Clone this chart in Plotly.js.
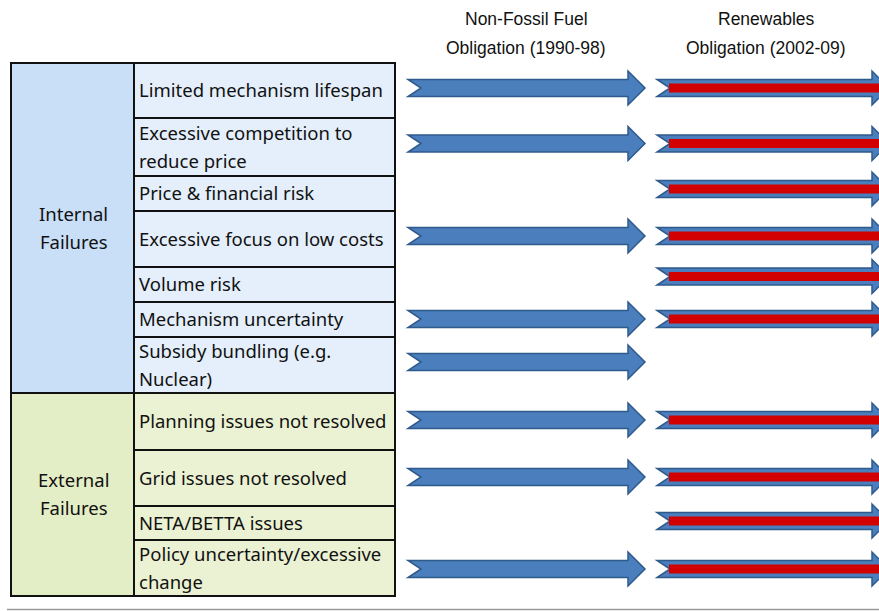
<!DOCTYPE html>
<html>
<head>
<meta charset="utf-8">
<script src="https://cdn.plot.ly/plotly-3.0.1.min.js"></script>
<style>html,body{margin:0;padding:0;background:#fff;}#chart{width:879px;height:611px;}</style>
</head>
<body>
<div id="chart"></div>
<script>
// ---------- DATA ----------
const failureGroups = ['Internal<br>Failures', 'External<br>Failures'];
const factors = [
  'Limited mechanism lifespan',
  'Excessive competition to<br>reduce price',
  'Price & financial risk',
  'Excessive focus on low costs',
  'Volume risk',
  'Mechanism uncertainty',
  'Subsidy bundling (e.g.<br>Nuclear)',
  'Planning issues not resolved',
  'Grid issues not resolved',
  'NETA/BETTA issues',
  'Policy uncertainty/excessive<br>change'
];
const factorGroup = [0, 0, 0, 0, 0, 0, 0, 1, 1, 1, 1];
const schemes = ['Non-Fossil Fuel<br>Obligation (1990-98)', 'Renewables<br>Obligation (2002-09)'];
const nffoFailure = [1, 1, 0, 1, 0, 1, 1, 1, 1, 0, 1];
const roFailure   = [1, 1, 1, 1, 1, 1, 0, 1, 1, 1, 1];

// ---------- LAYOUT CONSTANTS ----------
const ROW_H = [55, 58, 35, 56, 35, 35, 56, 57, 56, 34, 56];
const ARROW_DY = [-2.5, -3.5, -4.5, -3, -8, -0.5, -3, -1.5, -1, -2, 1];
const TABLE_TOP = 63, X_LEFT = 11, X_MID = 134, X_RIGHT = 395;
const SCHEME_X = [[408, 645], [657, 889]];
const HEADER_CX = [526, 766];
const GROUP_FILL = ['#c8dff7', '#e4eec6'];
const CELL_FILL = ['#e4effb', '#ebf2d3'];
const BLUE = '#4a7ebd', BLUE_EDGE = '#2f5a8c', RED = '#d20000';
const TXT_FONT = {family: 'Noto Sans', size: 18.5, color: '#111'};
const HDR_FONT = {family: 'Liberation Sans', size: 17.5, color: '#111'};

const shapes = [];
const annotations = [];

// row boundaries
const rowTop = [];
let yy = TABLE_TOP;
ROW_H.forEach(h => { rowTop.push(yy); yy += h; });
const rowBot = rowTop.map((t, i) => t + ROW_H[i]);
const rowMid = rowTop.map((t, i) => t + ROW_H[i] / 2);

// group cells
failureGroups.forEach((g, gi) => {
  const idx = factorGroup.map((v, i) => v === gi ? i : -1).filter(i => i >= 0);
  const y0 = rowTop[idx[0]], y1 = rowBot[idx[idx.length - 1]];
  shapes.push({type: 'rect', xref: 'x', yref: 'y', x0: X_LEFT, x1: X_MID, y0: y0, y1: y1,
    fillcolor: GROUP_FILL[gi], line: {color: '#111', width: 2}, layer: 'below'});
  const lines = g.split('<br>');
  const mid = (y0 + y1) / 2;
  lines.forEach((ln, li) => {
    annotations.push({xref: 'x', yref: 'y', x: (X_LEFT + X_MID) / 2 + 1, y: mid - 1 + (li - (lines.length - 1) / 2) * 28,
      text: ln, showarrow: false, xanchor: 'center', yanchor: 'middle', font: TXT_FONT});
  });
});

// factor cells
factors.forEach((f, i) => {
  const gi = factorGroup[i];
  shapes.push({type: 'rect', xref: 'x', yref: 'y', x0: X_MID, x1: X_RIGHT, y0: rowTop[i], y1: rowBot[i],
    fillcolor: CELL_FILL[gi], line: {color: '#111', width: 2}, layer: 'below'});
  const lines = f.split('<br>');
  lines.forEach((ln, li) => {
    annotations.push({xref: 'x', yref: 'y', x: X_MID + 3, y: rowMid[i] - 1 + (li - (lines.length - 1) / 2) * 28,
      text: ln, showarrow: false, xanchor: 'left', yanchor: 'middle', font: TXT_FONT});
  });
});

// scheme headers
schemes.forEach((s, si) => {
  s.split('<br>').forEach((ln, li) => {
    annotations.push({xref: 'x', yref: 'y', x: HEADER_CX[si], y: 19 + li * 29, text: ln, showarrow: false,
      xanchor: 'center', yanchor: 'middle', font: HDR_FONT});
  });
});

// arrows
function arrowPath(x0, x1, yc) {
  const bh = 8.5, hh = 17, hl = 17, notch = 13;
  const hx = x1 - hl;
  return `M${x0},${yc - bh} L${hx},${yc - bh} L${hx},${yc - hh} L${x1},${yc} L${hx},${yc + hh} L${hx},${yc + bh} L${x0},${yc + bh} L${x0 + notch},${yc} Z`;
}
[nffoFailure, roFailure].forEach((flags, si) => {
  flags.forEach((v, i) => {
    if (!v) return;
    const [x0, x1] = SCHEME_X[si];
    const yc = rowMid[i] + ARROW_DY[i];
    shapes.push({type: 'path', xref: 'x', yref: 'y', path: arrowPath(x0, x1, yc),
      fillcolor: BLUE, line: {color: BLUE_EDGE, width: 1.5}});
    if (si === 1) {
      shapes.push({type: 'rect', xref: 'x', yref: 'y', x0: x0 + 12, x1: x1 - 10, y0: yc - 4.5, y1: yc + 4.5,
        fillcolor: RED, line: {width: 0}});
    }
  });
});

// bottom rule
shapes.push({type: 'line', xref: 'x', yref: 'y', x0: 7, x1: 879, y0: 609.5, y1: 609.5,
  line: {color: '#9a9a9a', width: 1.5}});

const layout = {
  width: 879, height: 611,
  margin: {l: 0, r: 0, t: 0, b: 0},
  paper_bgcolor: '#fff', plot_bgcolor: '#fff',
  xaxis: {range: [0, 879], visible: false, fixedrange: true},
  yaxis: {range: [611, 0], visible: false, fixedrange: true},
  shapes: shapes,
  annotations: annotations,
  showlegend: false
};
Plotly.newPlot('chart', [{x: [], y: [], type: 'scatter', mode: 'markers', hoverinfo: 'skip'}], layout,
  {displayModeBar: false, staticPlot: true});
</script>
</body>
</html>
